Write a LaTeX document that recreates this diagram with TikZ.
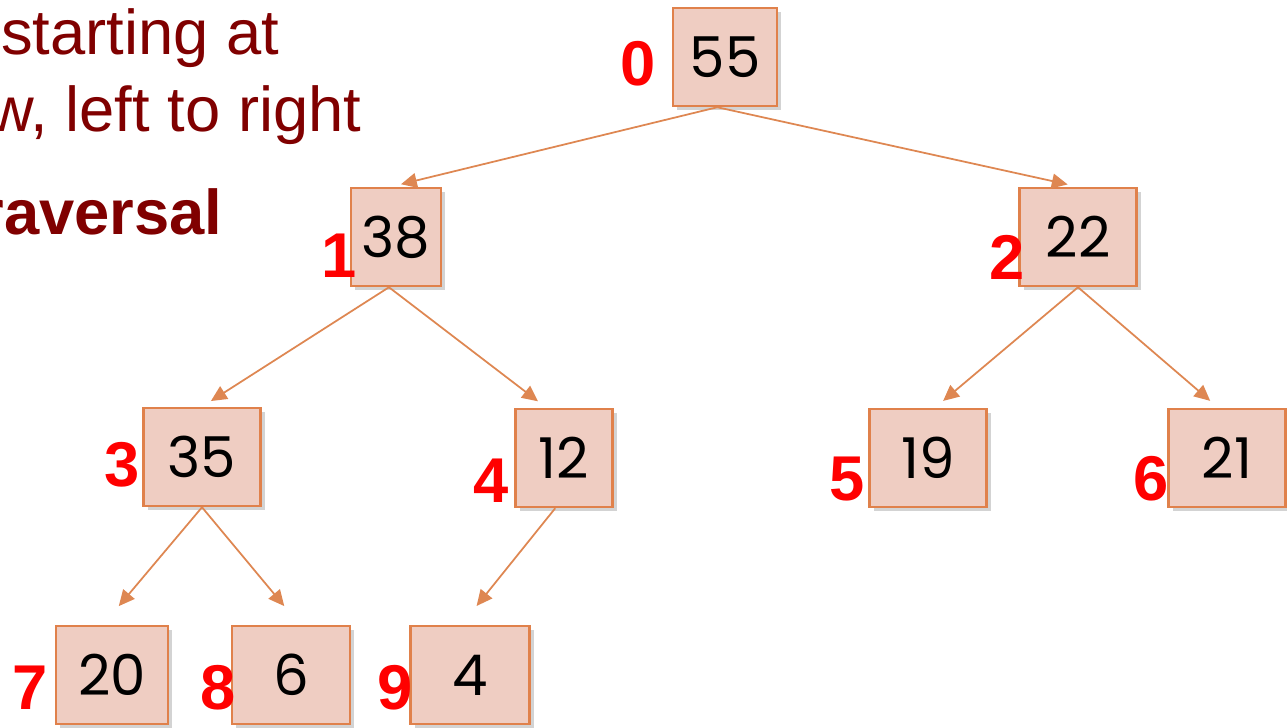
\documentclass[tikz,border=0pt]{standalone}
\usepackage{fontspec}
\setmainfont{Liberation Sans}
\newfontfamily\numfont{Poppins}
\usetikzlibrary{arrows.meta,shadows}

\definecolor{boxfill}{HTML}{EFCDC2}
\definecolor{boxline}{HTML}{E0814B}
\definecolor{edgeline}{HTML}{DE8752}
\definecolor{heading}{HTML}{800000}

\tikzset{
  heapbox/.style={draw=boxline,fill=boxfill,line width=0.7pt,minimum width=1.17cm,
    minimum height=0.98cm,inner sep=0pt,font=\numfont\fontsize{16}{16}\selectfont,
    drop shadow={opacity=0.35,shadow xshift=1.2pt,shadow yshift=-1.2pt}},
  idx/.style={text=red,inner sep=0pt,font=\bfseries\fontsize{18}{18}\selectfont},
  heapedge/.style={draw=edgeline,line width=0.5pt,-{Triangle[length=4.5pt,width=4.2pt]},shorten >=3pt},
  notes/.style={text=heading,inner sep=0pt,anchor=base east,font=\fontsize{18}{18}\selectfont}
}

\begin{document}
\begin{tikzpicture}[x=0.01cm,y=-0.01cm]
  \useasboundingbox (0,0) rectangle (1287,728);
  \clip (0,0) rectangle (1287,728);
  % text at the left, cut by the page edge
  \node[notes] (txtA) at (280,55) {starting at};
  \node[notes] (txtB) at (362,132) {w, left to right};
  \node[notes,font=\bfseries\fontsize{18}{18}\selectfont] (txtC) at (223,235) {raversal};
  % the heap
  \node[heapbox,minimum width=1.04cm] (n0) at (725,57) {55};
  \node[heapbox,minimum width=0.90cm] (n1) at (396,237) {38};
  \node[heapbox] (n2) at (1078,237) {22};
  \node[heapbox] (n3) at (202,457) {35};
  \node[heapbox,minimum width=0.97cm] (n4) at (564,458) {12};
  \node[heapbox] (n5) at (928,458) {19};
  \node[heapbox] (n6) at (1227,458) {21};
  \node[heapbox,minimum width=1.12cm] (n7) at (112,675) {20};
  \node[heapbox,minimum width=1.18cm] (n8) at (291,675) {6};
  \node[heapbox,minimum width=1.19cm] (n9) at (470,675) {4};
  % array positions
  \node[idx] (i0) at (638,64) {0};
  \node[idx] (i1) at (339,256) {1};
  \node[idx] (i2) at (1007,257) {2};
  \node[idx] (i3) at (122,465) {3};
  \node[idx] (i4) at (491,481) {4};
  \node[idx] (i5) at (847,479) {5};
  \node[idx] (i6) at (1151,479) {6};
  \node[idx] (i7) at (30,688) {7};
  \node[idx] (i8) at (218,688) {8};
  \node[idx] (i9) at (395,688) {9};
  % parent to child
  \draw[heapedge] ([xshift=-2.2pt]n0.south) -- ([xshift=-1.5pt]n1.north);
  \draw[heapedge] ([xshift=-2.2pt]n0.south) -- (n2.north);
  \draw[heapedge] ([xshift=-2pt]n1.south) -- (n3.north);
  \draw[heapedge] ([xshift=-2pt]n1.south) -- ([xshift=-5pt]n4.north);
  \draw[heapedge] (n2.south) -- ([xshift=2pt]n5.north);
  \draw[heapedge] (n2.south) -- ([xshift=-2.5pt]n6.north);
  \draw[heapedge] (n3.south) -- ([yshift=3pt]n7.north);
  \draw[heapedge] (n3.south) -- ([yshift=3pt]n8.north);
  \draw[heapedge] ([xshift=-2.5pt]n4.south) -- ([yshift=3pt]n9.north);
\end{tikzpicture}
\end{document}
